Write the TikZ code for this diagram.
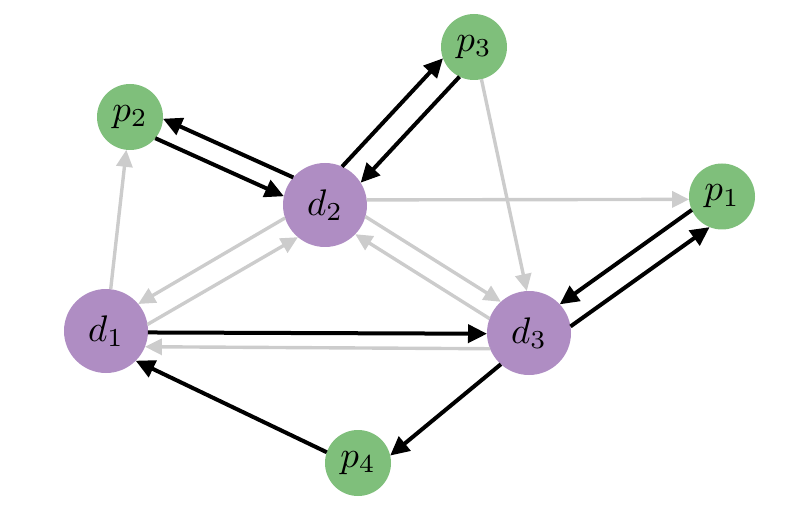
\documentclass[tikz,border=0pt]{standalone}
\usepackage{graphicx}
\usetikzlibrary{arrows.meta}
\definecolor{pgreen}{RGB}{127,191,123}
\definecolor{dpurple}{RGB}{175,141,195}
\definecolor{lgray}{RGB}{204,204,204}
\newcommand{\lbl}[1]{\scalebox{3.7}{$#1$}}
\tikzset{
  base/.style={circle, inner sep=0pt, outer sep=0pt},
  pnode/.style={base, fill=pgreen, minimum size=66pt},
  dnode/.style={base, fill=dpurple, minimum size=84pt},
  blk/.style={draw=black, line width=4pt, -{Triangle[length=19pt,width=18pt]}},
  gry/.style={draw=lgray, line width=3.4pt, -{Triangle[length=17pt,width=16pt]}}
}
\begin{document}
\begin{tikzpicture}[x=1pt,y=-1pt]
\useasboundingbox (0,0) rectangle (806,513);
\node[pnode] (p2) at (130,117) {\lbl{p_2}};
\node[dnode] (d2) at (325,205) {\lbl{d_2}};
\node[pnode] (p3) at (474,47) {\lbl{p_3}};
\node[pnode] (p1) at (722,196.5) {\lbl{p_1}};
\node[dnode] (d1) at (106,331) {\lbl{d_1}};
\node[dnode] (d3) at (529,333) {\lbl{d_3}};
\node[pnode] (p4) at (358,463) {\lbl{p_4}};
% gray edges
\draw[gry] (d1) -- (p2);
\draw[gry] (d2.7.5) -- (p1.185);
\draw[gry] (p3.-77.5) -- (d3.93);
\draw[gry] (d2.198.9) -- (d1.40.9);
\draw[gry] (d1.9.0) -- (d2.230.8);
\draw[gry] (d2.-16.9) -- (d3.132.7);
\draw[gry] (d3.160.3) -- (d2.-44.5);
\draw[gry] (d3.202.1) -- (d1.-22.7);
% black edges
\draw[blk] (d2.139.1) -- (p2.-3.0);
\draw[blk] (p2.-40.1) -- (d2.168.1);
\draw[blk] (d2.66.9) -- (p3.200.6);
\draw[blk] (p3.244.3) -- (d2.32.9);
\draw[blk] (d1.-2.3) -- (d3.181.7);
\draw[blk] (p1.204.8) -- (d3.43.5);
\draw[blk] (d3.9.9) -- (p1.248.4);
\draw[blk] (d3.-132) -- (p4.13);
\draw[blk] (p4.161) -- (d1.-45);
\end{tikzpicture}
\end{document}
